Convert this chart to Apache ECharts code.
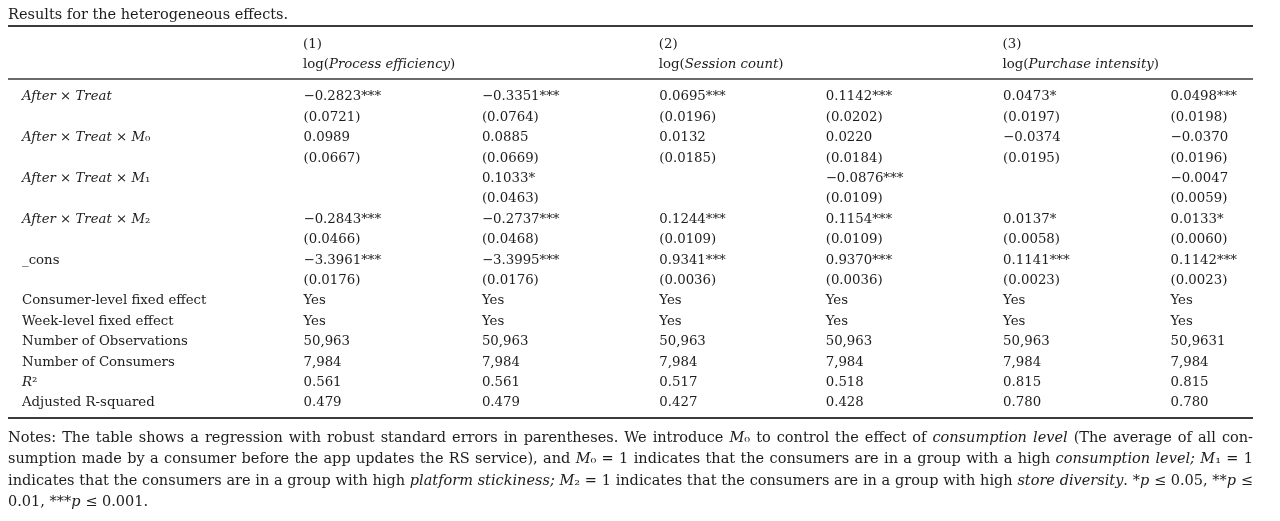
<!DOCTYPE html>
<html><head><meta charset="utf-8">
<script src="https://cdn.jsdelivr.net/npm/echarts@6/dist/echarts.min.js"></script>
<style>html,body{margin:0;padding:0;background:#fff}#c{width:1280px;height:521px}</style>
</head><body><div id="c"></div>
<script>
// ---------------- data ----------------
const titleText = 'Results for the heterogeneous effects.';
const columnHeads = ['(1)', '', '(2)', '', '(3)', ''];
const columnDeps = ['Process efficiency', '', 'Session count', '', 'Purchase intensity', ''];
const rowLabels = [
  'After × Treat', '',
  'After × Treat × M₀', '',
  'After × Treat × M₁', '',
  'After × Treat × M₂', '',
  '_cons', '',
  'Consumer-level fixed effect', 'Week-level fixed effect',
  'Number of Observations', 'Number of Consumers', 'R²', 'Adjusted R-squared'
];
const col1 = ['−0.2823***','(0.0721)','0.0989','(0.0667)','','','−0.2843***','(0.0466)','−3.3961***','(0.0176)','Yes','Yes','50,963','7,984','0.561','0.479'];
const col2 = ['−0.3351***','(0.0764)','0.0885','(0.0669)','0.1033*','(0.0463)','−0.2737***','(0.0468)','−3.3995***','(0.0176)','Yes','Yes','50,963','7,984','0.561','0.479'];
const col3 = ['0.0695***','(0.0196)','0.0132','(0.0185)','','','0.1244***','(0.0109)','0.9341***','(0.0036)','Yes','Yes','50,963','7,984','0.517','0.427'];
const col4 = ['0.1142***','(0.0202)','0.0220','(0.0184)','−0.0876***','(0.0109)','0.1154***','(0.0109)','0.9370***','(0.0036)','Yes','Yes','50,963','7,984','0.518','0.428'];
const col5 = ['0.0473*','(0.0197)','−0.0374','(0.0195)','','','0.0137*','(0.0058)','0.1141***','(0.0023)','Yes','Yes','50,963','7,984','0.815','0.780'];
const col6 = ['0.0498***','(0.0198)','−0.0370','(0.0196)','−0.0047','(0.0059)','0.0133*','(0.0060)','0.1142***','(0.0023)','Yes','Yes','50,9631','7,984','0.815','0.780'];
const columns = [col1, col2, col3, col4, col5, col6];
// notes: segments [text, italic]
const notesLines = [
  [['Notes: The table shows a regression with robust standard errors in parentheses. We introduce ', 0], ['M', 1], ['₀ to control the effect of ', 0], ['consumption level', 1], [' (The average of all con-', 0]],
  [['sumption made by a consumer before the app updates the RS service), and ', 0], ['M', 1], ['₀ = 1 indicates that the consumers are in a group with a high ', 0], ['consumption level;', 1], [' ', 0], ['M', 1], ['₁ = 1', 0]],
  [['indicates that the consumers are in a group with high ', 0], ['platform stickiness;', 1], [' ', 0], ['M', 1], ['₂ = 1 indicates that the consumers are in a group with high ', 0], ['store diversity', 1], ['. *', 0], ['p', 1], [' ≤ 0.05, **', 0], ['p', 1], [' ≤', 0]],
  [['0.01, ***', 0], ['p', 1], [' ≤ 0.001.', 0]]
];

// ---------------- style / layout ----------------
const FONT = 'DejaVu Serif';
const TXT = '#1c1c1c';
const TABLE_FS = 13.3;
const NOTE_FS = 14.5;
const colNudge = [0, 5, 9, 2, 6, 0];
const gridTop = 86.8, gridH = 326.4;

function italicLabel(s) {
  if (!s) return '';
  if (s === 'R²') return '{i|R}²';
  if (s.indexOf('After') === 0) {
    return s.split(' × ').map(p => p[0] === 'M' ? '{i|M}' + p.slice(1) : '{i|' + p + '}').join(' × ');
  }
  return s;
}

const headRich = {};
colNudge.forEach((w, k) => { if (w > 0) headRich['sp' + k] = { width: w }; });

const series = columns.map((vals, ci) => ({
  type: 'scatter',
  symbolSize: 1,
  itemStyle: { color: 'rgba(0,0,0,0)', opacity: 1 },
  silent: true,
  data: vals.map((v, ri) => [ci, ri, v]).filter(d => d[2] !== ''),
  label: {
    show: true, position: 'right', distance: 0, offset: [colNudge[ci], 0],
    align: 'left', verticalAlign: 'middle', opacity: 1,
    fontFamily: FONT, fontSize: TABLE_FS, color: TXT,
    formatter: p => p.data[2]
  }
}));

// notes justification
const mctx = document.createElement('canvas').getContext('2d');
function measure(t, it) {
  mctx.font = (it ? 'italic ' : 'normal ') + 'normal ' + NOTE_FS + 'px "' + FONT + '"';
  return mctx.measureText(t).width;
}
const noteX0 = 8, noteX1 = 1253, noteY = [438, 459.5, 481, 502];
const graphics = [];
notesLines.forEach((segs, li) => {
  const words = [];
  let cur = [];
  segs.forEach(([t, it]) => {
    const parts = t.split(' ');
    parts.forEach((p, k) => {
      if (k > 0) { if (cur.length) words.push(cur); cur = []; }
      if (p) cur.push([p, it]);
    });
  });
  if (cur.length) words.push(cur);
  const widths = words.map(w => w.reduce((a, [t, it]) => a + measure(t, it), 0));
  const total = widths.reduce((a, b) => a + b, 0);
  const justify = li < notesLines.length - 1;
  const gap = justify ? (noteX1 - noteX0 - total) / (words.length - 1) : measure(' ', 0);
  let x = noteX0;
  words.forEach((w, wi) => {
    let px = x;
    w.forEach(([t, it]) => {
      graphics.push({
        type: 'text', x: px, y: noteY[li], silent: true,
        style: { text: t, fill: TXT, font: (it ? 'italic ' : '') + NOTE_FS + 'px "' + FONT + '"', textAlign: 'left', textVerticalAlign: 'middle' }
      });
      px += measure(t, it);
    });
    x += widths[wi] + gap;
  });
});
// rules
[[26, 2], [79, 1.3], [418, 2]].forEach(([y, w]) => {
  graphics.push({ type: 'line', silent: true, shape: { x1: 8, y1: y, x2: 1253, y2: y }, style: { stroke: '#3a3a3a', lineWidth: w } });
});

const chart = echarts.init(document.getElementById('c'), null, { renderer: 'canvas' });
chart.setOption({
  animation: false,
  backgroundColor: '#fff',
  title: {
    text: titleText, left: 3, top: 3,
    textStyle: { fontFamily: FONT, fontSize: 14.5, fontWeight: 'normal', color: TXT }
  },
  grid: { left: 303, right: 110, top: gridTop, height: gridH, containLabel: false },
  xAxis: {
    type: 'category', position: 'top', boundaryGap: false,
    data: columnHeads.map((h, i) => 'c' + i),
    axisLine: { show: false }, axisTick: { show: false }, splitLine: { show: false },
    axisLabel: {
      interval: 0, margin: 12, align: 'left',
      fontFamily: FONT, fontSize: TABLE_FS, color: TXT, lineHeight: 20,
      rich: Object.assign({}, headRich, {
        n: { fontFamily: FONT, fontSize: TABLE_FS, color: TXT, lineHeight: 20 },
        i: { fontFamily: FONT, fontSize: TABLE_FS, color: TXT, lineHeight: 20, fontStyle: 'italic' }
      }),
      formatter: (v, idx) => {
        if (!columnHeads[idx]) return '';
        const sp = colNudge[idx] > 0 ? '{sp' + idx + '| }' : '';
        return sp + '{n|' + columnHeads[idx] + '}\n' + sp + '{n|log(}{i|' + columnDeps[idx] + '}{n|)}';
      }
    }
  },
  yAxis: {
    type: 'category', inverse: true,
    data: rowLabels.map((r, i) => 'r' + i),
    axisLine: { show: false }, axisTick: { show: false }, splitLine: { show: false },
    axisLabel: {
      interval: 0, margin: 281, align: 'left',
      fontFamily: FONT, fontSize: TABLE_FS, color: TXT,
      rich: { i: { fontFamily: FONT, fontSize: TABLE_FS, color: TXT, fontStyle: 'italic' } },
      formatter: (v, idx) => italicLabel(rowLabels[idx])
    }
  },
  series: series,
  graphic: graphics
});
</script></body></html>
